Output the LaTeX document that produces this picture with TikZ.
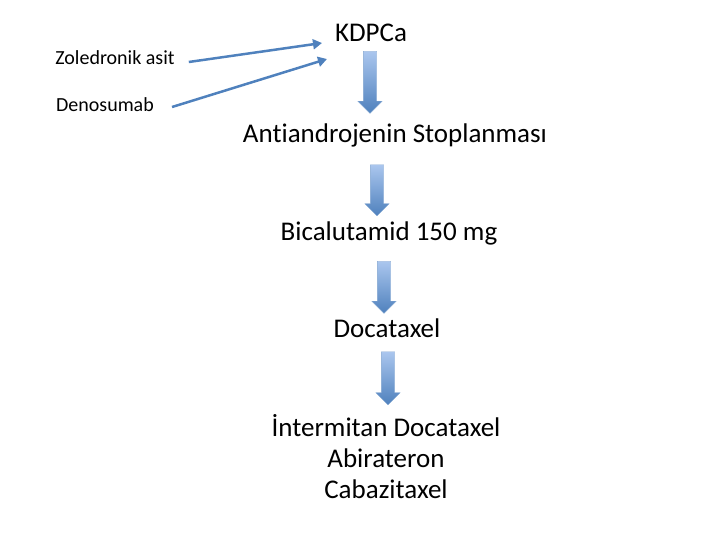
\documentclass[tikz,border=0pt]{standalone}
\usepackage{fontspec}
\setmainfont[Ligatures=NoCommon]{Carlito}
\definecolor{lineblue}{RGB}{79, 129, 189}
\definecolor{lightblue}{RGB}{170, 198, 238}
\usetikzlibrary{shapes.arrows, arrows.meta, positioning, calc}

\tikzset{
  side/.style={font=\fontsize{20}{24}\selectfont, inner sep=0pt},
  main/.style={font=\fontsize{27}{31}\selectfont, align=center, inner sep=0pt},
  feed/.style={draw=lineblue, line width=2.5pt, -{Triangle[length=9pt, width=10pt]}},
  downarrow/.style={single arrow, rotate=-90, inner xsep=0pt, inner ysep=6.5pt,
    minimum width=24pt, single arrow head extend=5.5pt, draw=lineblue!70, line width=0.3pt,
    top color=lightblue, bottom color=lineblue}
}

\begin{document}
\begin{tikzpicture}[x=1pt, y=-1pt]
  \useasboundingbox (0,0) rectangle (720,540);

  % side treatments
  \node[side] (zol) at (115, 58) {Zoledronik asit};
  \node[side] (deno) at (105, 105) {Denosumab};

  % main sequence
  \node[main] (kdpca) at (371, 33) {KDPCa};
  \node[main] (anti) at (395, 135) {Antiandrojenin Stoplanması};
  \node[main] (bica) at (389, 233) {Bicalutamid 150 mg};
  \node[main] (doca) at (387, 328) {Docataxel};
  \node[main, anchor=north] (last) at (386, 414) {İntermitan Docataxel\\Abirateron\\Cabazitaxel};

  % arrows into KDPCa
  \coordinate (in1) at (322, 43);
  \coordinate (in2) at (327, 59);
  \draw[feed] ($(zol.east)+(14,4)$) -- (in1);
  \draw[feed] ($(deno.east)+(18,2)$) -- (in2);

  % block arrows
  \node[downarrow, minimum height=62pt] (a1) at (370, 79) {};
  \node[downarrow, minimum height=51pt] (a2) at (377, 187) {};
  \node[downarrow, minimum height=52pt] (a3) at (384, 284) {};
  \node[downarrow, minimum height=53pt] (a4) at (388, 375) {};
\end{tikzpicture}
\end{document}
